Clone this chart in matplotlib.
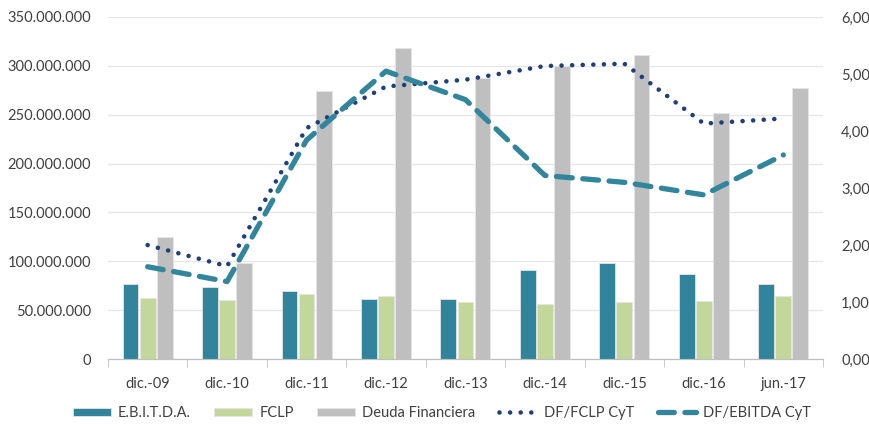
import matplotlib
matplotlib.use('Agg')
import matplotlib.pyplot as plt
from matplotlib.ticker import FuncFormatter, FixedLocator
import numpy as np

plt.rcParams['font.family'] = ['Lato', 'DejaVu Sans']

periodos = ['dic.-09', 'dic.-10', 'dic.-11', 'dic.-12', 'dic.-13',
            'dic.-14', 'dic.-15', 'dic.-16', 'jun.-17']

ebitda = [77e6, 74e6, 70e6, 61.5e6, 62e6, 91.5e6, 98e6, 87e6, 77e6]
fclp = [62.5e6, 60.5e6, 67e6, 65e6, 58e6, 56.5e6, 58e6, 59.5e6, 65e6]
deuda = [125e6, 98e6, 274e6, 318e6, 288e6, 300e6, 311e6, 252e6, 277e6]

df_fclp = [2.0, 1.63, 4.05, 4.78, 4.9, 5.14, 5.18, 4.13, 4.22]
df_ebitda = [1.62, 1.36, 3.84, 5.05, 4.55, 3.22, 3.1, 2.88, 3.58]

c_ebitda = '#31849B'
c_fclp = '#C4D79B'
c_deuda = '#BFBFBF'
c_dot = '#1F3F7A'
c_dash = '#31859C'
txt = '#404040'

fig = plt.figure(figsize=(8.7, 4.24), dpi=100)
ax = fig.add_axes([0.124, 0.153, 0.822, 0.807])
ax2 = ax.twinx()

x = np.arange(len(periodos))
w = 0.2
b1 = ax.bar(x - 0.215, ebitda, w, color=c_ebitda, edgecolor='#e6e6e6', linewidth=0.6, zorder=2)
b2 = ax.bar(x, fclp, w, color=c_fclp, edgecolor='#e6e6e6', linewidth=0.6, zorder=2)
b3 = ax.bar(x + 0.215, deuda, w, color=c_deuda, edgecolor='#e6e6e6', linewidth=0.6, zorder=2)

l1, = ax2.plot(x, df_fclp, color=c_dot, lw=3.3, linestyle=(0, (0.01, 2.3)),
               dash_capstyle='round')
l2, = ax2.plot(x, df_ebitda, color=c_dash, lw=3.8, linestyle=(0, (3.0, 2.0)),
               dash_capstyle='round')

ax.set_xlim(-0.5, len(periodos) - 0.5)
ax.set_ylim(0, 350e6)
ax.set_yticks(np.arange(0, 350e6 + 1, 50e6))
ax.yaxis.set_major_formatter(FuncFormatter(lambda v, p: f'{int(v):,}'.replace(',', '.')))
ax2.set_ylim(0, 6)
ax2.set_yticks(np.arange(0, 7, 1))
ax2.yaxis.set_major_formatter(FuncFormatter(lambda v, p: f'{v:.2f}'.replace('.', ',')))

ax.set_xticks(x)
ax.set_xticklabels(periodos)
ax.xaxis.set_minor_locator(FixedLocator(np.arange(-0.5, len(periodos), 1)))
ax.tick_params(axis='x', which='major', length=0, pad=13, labelsize=10.5, labelcolor=txt)
ax.tick_params(axis='x', which='minor', length=6, color='#bfbfbf')
ax.tick_params(axis='y', length=0, pad=12, labelsize=10.5, labelcolor=txt)
ax2.tick_params(axis='y', which='both', length=0, pad=13, labelsize=10.5, labelcolor=txt)

ax.grid(axis='y', color='#e6e6e6', lw=0.9, zorder=0)
ax.set_axisbelow(True)
for a in (ax, ax2):
    for s in ('top', 'left', 'right'):
        a.spines[s].set_visible(False)
    a.spines['bottom'].set_color('#bfbfbf')

fig.legend([b1, b2, b3, l1, l2],
           ['E.B.I.T.D.A.', 'FCLP', 'Deuda Financiera', 'DF/FCLP CyT', 'DF/EBITDA CyT'],
           loc='center', bbox_to_anchor=(0.508, 0.026), ncol=5, frameon=False,
           fontsize=10.5, labelcolor=txt, handlelength=2.6, handleheight=0.5,
           columnspacing=1.6, handletextpad=0.5)

fig.savefig('out.png', dpi=100)
